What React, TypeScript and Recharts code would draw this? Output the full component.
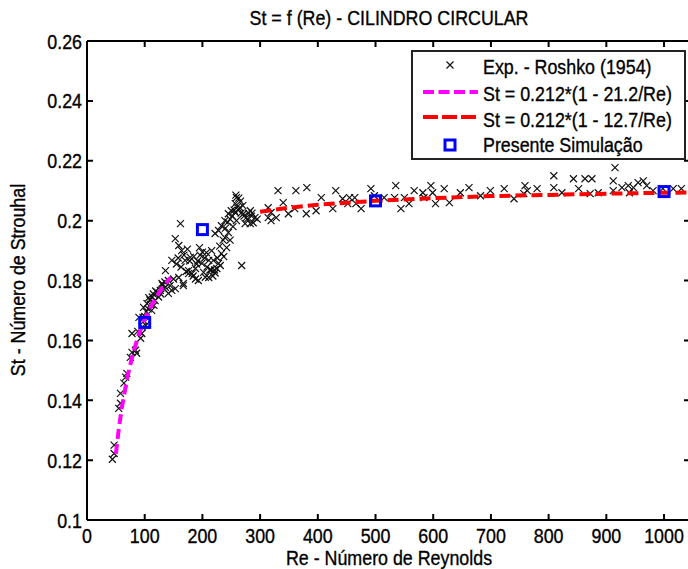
import { ComposedChart, Scatter, XAxis, YAxis, ReferenceLine } from 'recharts';

const FONT = "'Liberation Sans', Arial, sans-serif";
const FONT_SIZE = 21;
// horizontal squeeze for the narrow MATLAB-like lettering
const SQUEEZE = 0.85;

// Roshko (1954) measurements: Reynolds number and Strouhal number
const roshkoRe = [
  44, 47, 47, 55, 58, 58, 64, 67, 69, 75, 78, 84, 86, 78, 88, 93, 95, 90, 97, 98,
  100, 102, 104, 107, 110, 112, 116, 118, 122, 127, 130, 136, 141, 144, 153, 167,
  96, 99, 103, 106, 109, 113, 115, 119, 124, 128, 131, 135,
  133, 141, 147, 136, 147, 153, 159, 164, 162, 170, 179, 176, 182, 188, 193, 167,
  159, 199, 207, 211, 219, 216, 225, 231, 211, 202, 233, 222, 228, 233, 239, 245,
  250, 257, 259, 265, 271, 276, 283, 288, 291, 268, 239, 245, 259, 274, 283, 257,
  176, 205, 228, 185, 195, 172, 190, 215, 222, 237, 242, 248, 253, 262, 266, 270,
  280, 285, 295, 258, 263, 314, 319, 328, 319, 314,
  150, 155, 158, 163, 168, 174, 178, 184, 188, 192, 196, 200, 204, 208, 213, 218,
  221, 226, 230, 236, 240, 244, 248, 252, 255, 260, 267, 272, 278, 286,
  331, 362, 381, 340, 349, 360, 380, 397, 406, 426, 431, 443, 455, 464, 466, 475,
  452, 492, 498, 515, 535, 533, 544, 550, 558, 567, 582, 584, 596, 599, 604, 619,
  628, 647, 662,
  682, 699, 723, 740, 759, 763, 757, 780, 809, 809, 823, 843, 852, 863, 875, 872,
  886, 915, 912, 912, 927, 938, 947, 955, 964, 970, 981, 998, 1016, 1030, 940,
];
const roshkoSt = [
  0.1203, 0.1222, 0.125, 0.1373, 0.139, 0.1423, 0.1457, 0.1477, 0.149, 0.1543, 0.156, 0.1567, 0.1557, 0.1623, 0.163, 0.1607, 0.1623, 0.1677, 0.1677, 0.171,
  0.168, 0.165, 0.1723, 0.1743, 0.172, 0.17, 0.1717, 0.1733, 0.176, 0.1767, 0.179, 0.1777, 0.1757, 0.1783, 0.1773, 0.1783,
  0.1645, 0.1665, 0.1695, 0.1705, 0.1735, 0.1745, 0.1755, 0.1765, 0.1745, 0.1755, 0.1785, 0.1795,
  0.1773, 0.18, 0.1767, 0.1833, 0.1867, 0.194, 0.1917, 0.19, 0.199, 0.1867, 0.1877, 0.1833, 0.1823, 0.184, 0.18, 0.179,
  0.181, 0.1857, 0.1893, 0.1867, 0.1867, 0.19, 0.184, 0.185, 0.181, 0.1827, 0.189, 0.1957, 0.1967, 0.1983, 0.2, 0.2023,
  0.2033, 0.2057, 0.2077, 0.2043, 0.2023, 0.201, 0.2033, 0.1993, 0.201, 0.185, 0.1943, 0.196, 0.2, 0.199, 0.199, 0.2027,
  0.1823, 0.1811, 0.1857, 0.188, 0.191, 0.183, 0.1855, 0.1835, 0.1825, 0.188, 0.191, 0.1935, 0.198, 0.2035, 0.2065, 0.205,
  0.2025, 0.2015, 0.2005, 0.2085, 0.2075, 0.201, 0.2, 0.201, 0.2027, 0.2043,
  0.1805, 0.1855, 0.1875, 0.1845, 0.1885, 0.1905, 0.1865, 0.1815, 0.1805, 0.1865, 0.1885, 0.1895, 0.1875, 0.1845, 0.1835, 0.1815,
  0.1835, 0.1875, 0.1915, 0.1935, 0.1975, 0.1995, 0.2005, 0.2015, 0.2035, 0.2045, 0.2025, 0.2015, 0.2005, 0.2025,
  0.21, 0.21, 0.211, 0.206, 0.2023, 0.204, 0.2023, 0.2033, 0.2077, 0.204, 0.21, 0.2073, 0.2077, 0.2077, 0.2057, 0.204,
  0.2057, 0.2107, 0.2083, 0.2077, 0.2117, 0.2077, 0.204, 0.2077, 0.2057, 0.21, 0.2093, 0.2077, 0.2117, 0.2093, 0.2057, 0.2107,
  0.206, 0.2093, 0.211,
  0.2083, 0.21, 0.2107, 0.2073, 0.2117, 0.21, 0.209, 0.2107, 0.215, 0.211, 0.2093, 0.214, 0.2107, 0.214, 0.214, 0.209,
  0.2093, 0.2177, 0.2133, 0.21, 0.211, 0.2117, 0.211, 0.2127, 0.2133, 0.2117, 0.21, 0.2107, 0.2107, 0.2107, 0.2093,
];

// St = 0.212*(1 - 21.2/Re), low Reynolds range
const fitLowRe = [50, 55, 60, 70, 80, 90, 100, 110, 120, 130, 140, 145];
const fitLowSt = [0.1221, 0.1303, 0.1371, 0.1478, 0.1558, 0.1621, 0.1671, 0.1711, 0.1745, 0.1774, 0.1799, 0.181];

// St = 0.212*(1 - 12.7/Re), high Reynolds range
const fitHighRe = [300, 350, 400, 450, 500, 600, 700, 800, 900, 1000, 1050];
const fitHighSt = [0.203, 0.2043, 0.2053, 0.206, 0.2066, 0.2075, 0.2082, 0.2086, 0.209, 0.2093, 0.2094];

// present simulation
const simRe = [100, 200, 500, 1000];
const simSt = [0.166, 0.197, 0.2066, 0.2097];

const reTicks = [0, 100, 200, 300, 400, 500, 600, 700, 800, 900, 1000];
const stTicks = [0.1, 0.12, 0.14, 0.16, 0.18, 0.2, 0.22, 0.24, 0.26];
const RE_MAX = 1045;

const zip = (re: number[], st: number[]) => re.map((r, i) => ({ re: r, st: st[i] }));

const roshko = zip(roshkoRe, roshkoSt);
const fitLow = zip(fitLowRe, fitLowSt);
const fitHigh = zip(fitHighRe, fitHighSt);
const sim = zip(simRe, simSt);

// chart box
const CHART_W = 720;
const CHART_H = 569;
const MARGIN = { top: 41, right: 30, bottom: 0, left: 0 };
const X_AXIS_H = 49;
const Y_AXIS_W = 87;
const PLOT_TOP = MARGIN.top;
const PLOT_RIGHT = CHART_W - MARGIN.right;
const TICK_LEN = 6;
const AXIS_STROKE = { stroke: '#000', strokeWidth: 2 };

const Cross = (props: any) => {
  const { cx, cy } = props;
  const s = 3.5;
  return (
    <path
      d={`M${cx - s},${cy - s}L${cx + s},${cy + s}M${cx - s},${cy + s}L${cx + s},${cy - s}`}
      stroke="#111"
      strokeWidth={1.2}
      fill="none"
    />
  );
};

const Square = (props: any) => {
  const { cx, cy } = props;
  return <rect x={cx - 5} y={cy - 5} width={10} height={10} stroke="#0000ff" strokeWidth={3} fill="none" />;
};

const NoDot = () => <g />;

// narrow text, anchored at (x, y) baseline
const Label = ({ x, y, anchor = 'start', rotate = 0, children }: any) => (
  <text
    transform={`translate(${x},${y}) rotate(${rotate}) scale(${SQUEEZE},1)`}
    textAnchor={anchor}
    fontFamily={FONT}
    fontSize={FONT_SIZE}
    fill="#000"
    stroke="#000"
    strokeWidth={0.35}
  >
    {children}
  </text>
);

// MATLAB-style ticks pointing into the box, on both opposite sides
const BottomTick = ({ x, y, payload }: any) => (
  <g>
    <path d={`M${x},${y}V${y - TICK_LEN}M${x},${PLOT_TOP}V${PLOT_TOP + TICK_LEN}`} {...AXIS_STROKE} />
    <Label x={x} y={y + 23} anchor="middle">{payload.value}</Label>
  </g>
);
const LeftTick = ({ x, y, payload }: any) => (
  <g>
    <path d={`M${x},${y}H${x + TICK_LEN}M${PLOT_RIGHT},${y}H${PLOT_RIGHT - TICK_LEN}`} {...AXIS_STROKE} />
    <Label x={x - 5} y={y + 7.5} anchor="end">{payload.value}</Label>
  </g>
);

export default function App() {
  return (
    <div style={{ position: 'absolute', left: 0, top: 0, width: 688, height: 569, overflow: 'hidden', background: '#fff' }}>
      <ComposedChart width={CHART_W} height={CHART_H} margin={MARGIN}>
        <XAxis
          type="number"
          dataKey="re"
          domain={[0, RE_MAX]}
          allowDataOverflow
          ticks={reTicks}
          interval={0}
          height={X_AXIS_H}
          tick={BottomTick}
          tickSize={0}
          tickMargin={0}
          tickLine={false}
          axisLine={AXIS_STROKE}
        />
        <YAxis
          type="number"
          dataKey="st"
          domain={[0.1, 0.26]}
          allowDataOverflow
          ticks={stTicks}
          interval={0}
          width={Y_AXIS_W}
          tick={LeftTick}
          tickSize={0}
          tickMargin={0}
          tickLine={false}
          axisLine={AXIS_STROKE}
        />
        {/* top and right edges of the box */}
        <ReferenceLine y={0.26} {...AXIS_STROKE} />
        <ReferenceLine x={RE_MAX} {...AXIS_STROKE} />
        <Scatter data={roshko} shape={Cross} isAnimationActive={false} />
        <Scatter
          data={fitLow}
          shape={NoDot}
          line={{ stroke: '#ff00ff', strokeWidth: 4, strokeDasharray: '10 5' }}
          isAnimationActive={false}
        />
        <Scatter
          data={fitHigh}
          shape={NoDot}
          line={{ stroke: '#ff0000', strokeWidth: 4, strokeDasharray: '11 5' }}
          isAnimationActive={false}
        />
        <Scatter data={sim} shape={Square} isAnimationActive={false} />
      </ComposedChart>

      <svg width={688} height={569} style={{ position: 'absolute', left: 0, top: 0, pointerEvents: 'none' }}>
        <Label x={389} y={25} anchor="middle">St = f (Re) - CILINDRO CIRCULAR</Label>
        <Label x={389} y={565} anchor="middle">Re - Número de Reynolds</Label>
        <Label x={25} y={280} anchor="middle" rotate={-90}>St - Número de Strouhal</Label>

        <g>
          <rect x={412} y={51} width={273} height={108} fill="#fff" stroke="#222" strokeWidth={2} />
          <path d="M446.5,61.5L453.5,68.5M446.5,68.5L453.5,61.5" stroke="#111" strokeWidth={1.2} />
          <Label x={483} y={73.5}>Exp. - Roshko (1954)</Label>
          <line x1={423} y1={92} x2={478} y2={92} stroke="#ff00ff" strokeWidth={4} strokeDasharray="11 4.5" />
          <Label x={483} y={101}>St = 0.212*(1 - 21.2/Re)</Label>
          <line x1={423} y1={117} x2={478} y2={117} stroke="#ff0000" strokeWidth={4} strokeDasharray="15 4" />
          <Label x={483} y={126.5}>St = 0.212*(1 - 12.7/Re)</Label>
          <rect x={445} y={140} width={10} height={10} stroke="#0000ff" strokeWidth={3} fill="none" />
          <Label x={483} y={152}>Presente Simulação</Label>
        </g>
      </svg>
    </div>
  );
}
